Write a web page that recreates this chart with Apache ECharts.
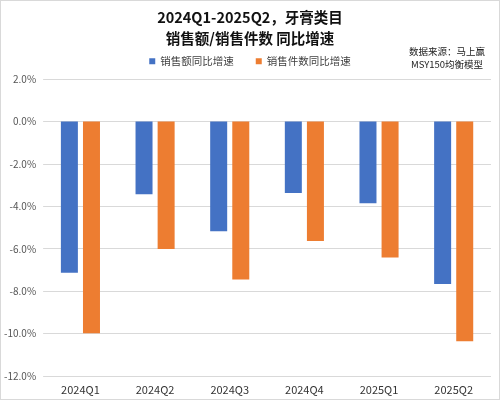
<!DOCTYPE html>
<html><head><meta charset="utf-8">
<script src="https://cdn.jsdelivr.net/npm/echarts@6/dist/echarts.min.js"></script>
<style>html,body{margin:0;padding:0;background:#fff}#c{width:500px;height:400px;box-sizing:border-box;border:1px solid #d9d9d9}</style>
</head><body><div id="c"></div>
<script>
const categories = ['2024Q1','2024Q2','2024Q3','2024Q4','2025Q1','2025Q2'];
const salesAmount = [-7.13, -3.43, -5.18, -3.37, -3.86, -7.66];
const salesUnits = [-9.99, -6.01, -7.45, -5.64, -6.42, -10.36];
const seriesNames = ['销售额同比增速', '销售件数同比增速'];
const titleText = '2024Q1-2025Q2，牙膏类目\n销售额/销售件数 同比增速';
const sourceText = '数据来源：马上赢\nMSY150均衡模型';

const font = '"Noto Sans CJK SC", "Noto Sans", sans-serif';
const chart = echarts.init(document.getElementById('c'));
chart.setOption({
  animation: false,
  textStyle: {fontFamily: font},
  title: {
    text: titleText, left: 'center', top: 6, padding: 0,
    textStyle: {fontSize: 14.5, fontWeight: 'bold', color: '#111', lineHeight: 21, fontFamily: font}
  },
  graphic: [{
    type: 'text', x: 446, y: 44.5,
    style: {text: sourceText, textAlign: 'center', fontSize: 9.5, lineHeight: 12.5, fill: '#222', fontFamily: font}
  }],
  legend: {
    top: 55, left: 'center', padding: 0, icon: 'rect', itemWidth: 6, itemHeight: 6, itemGap: 22,
    textStyle: {fontSize: 10.5, color: '#404040', fontFamily: font, padding: [0, 0, 0, 0]},
    data: seriesNames
  },
  grid: {left: 42, right: 8, top: 78, bottom: 23, containLabel: false},
  xAxis: {
    type: 'category', data: categories, position: 'bottom',
    axisLine: {show: false, onZero: false}, axisTick: {show: false},
    axisLabel: {fontSize: 11, color: '#333', margin: 8}
  },
  yAxis: {
    type: 'value', min: -12, max: 2, interval: 2,
    axisLine: {show: false}, axisTick: {show: false},
    splitLine: {lineStyle: {color: '#d9d9d9', width: 1}},
    axisLabel: {fontSize: 10, color: '#555', margin: 7, formatter: v => v.toFixed(1) + '%'}
  },
  series: [
    {name: seriesNames[0], type: 'bar', data: salesAmount, barWidth: 17, barGap: '30%', itemStyle: {color: '#4472C4'}},
    {name: seriesNames[1], type: 'bar', data: salesUnits, barWidth: 17, itemStyle: {color: '#ED7D31'}}
  ]
});
</script></body></html>
